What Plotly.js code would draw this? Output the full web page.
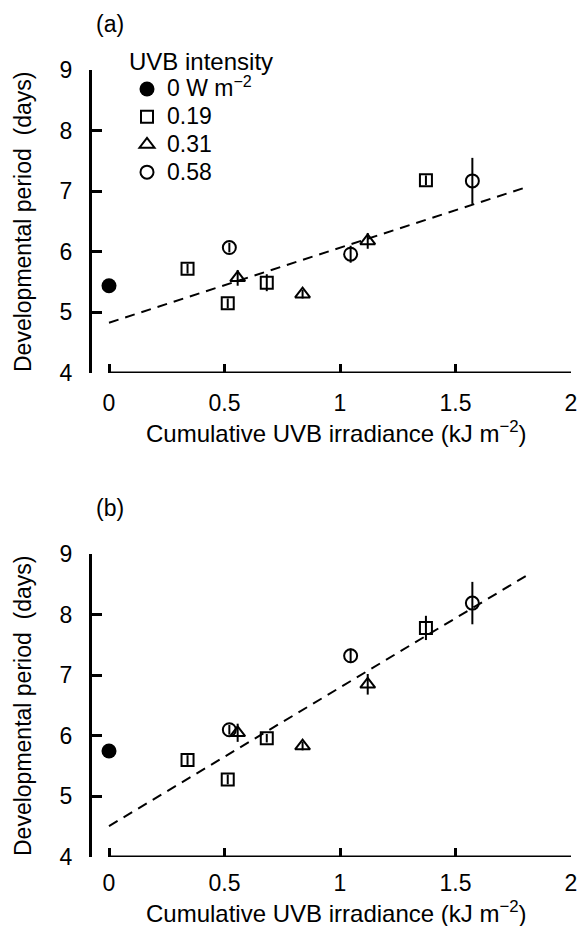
<!DOCTYPE html>
<html><head><meta charset="utf-8">
<script src="https://cdn.plot.ly/plotly-3.0.1.min.js"></script>
<style>html,body{margin:0;padding:0;background:#fff}</style>
</head><body><div id="chart" style="width:584px;height:926px"></div>
<script>
// ---- data ----
const legendNames = ['0 W m<sup>\u22122</sup>', '0.19', '0.31', '0.58'];
const xTicks = [0, 0.5, 1, 1.5, 2];
const yTicks = [4, 5, 6, 7, 8, 9];

const xCtrl = [0];
const xSq = [0.34, 0.514, 0.683, 1.372];
const xTri = [0.557, 0.838, 1.12];
const xCir = [0.521, 1.046, 1.573];

// panel (a)
const yCtrlA = [5.44];  const eCtrlA = [0.05];
const ySqA = [5.72, 5.15, 5.49, 7.18];  const eSqA = [0.08, 0.08, 0.14, 0.08];
const yTriA = [5.57, 5.30, 6.18];       const eTriA = [0.13, 0.07, 0.13];
const yCirA = [6.07, 5.96, 7.17];       const eCirA = [0.08, 0.14, 0.38];

// panel (b)
const yCtrlB = [5.75];  const eCtrlB = [0.05];
const ySqB = [5.60, 5.28, 5.96, 7.78];  const eSqB = [0.08, 0.08, 0.07, 0.20];
const yTriB = [6.05, 5.83, 6.85];       const eTriB = [0.15, 0.07, 0.17];
const yCirB = [6.10, 7.32, 8.19];       const eCirB = [0.08, 0.12, 0.35];

// regression lines
const trendX = [0, 1.81];
const trendYA = [4.83, 7.07];
const trendYB = [4.51, 8.65];

// ---- layout helpers ----
const W = 584, H = 926;
const px = v => v / W;
const py = v => 1 - v / H;
const FONT = 'Arial, "Liberation Sans", sans-serif';
const big = s => '<span style="font-size:23px">' + s + '</span>';

function series(xa, ya, x, y, e, symbol, size, name, show) {
  const filled = symbol === 'circle';
  return {
    type: 'scatter', mode: 'markers', x: x, y: y, xaxis: xa, yaxis: ya,
    name: big(name), showlegend: show, legendgroup: name,
    error_y: {type: 'data', array: e, visible: true, color: '#000', thickness: 2, width: 0},
    marker: {symbol: symbol, size: size, color: '#000',
             line: {color: '#000', width: filled ? 0 : 2}},
    cliponaxis: false
  };
}
function trend(xa, ya, y) {
  return {type: 'scatter', mode: 'lines', x: trendX, y: y, xaxis: xa, yaxis: ya,
          showlegend: false, line: {color: '#000', width: 2, dash: '10px,7px'}, hoverinfo: 'skip'};
}

const data = [
  trend('x', 'y', trendYA),
  series('x', 'y', xCtrl, yCtrlA, eCtrlA, 'circle', 15, legendNames[0], true),
  series('x', 'y', xSq, ySqA, eSqA, 'square-open', 12, legendNames[1], true),
  series('x', 'y', xTri, yTriA, eTriA, 'triangle-up-open', 13, legendNames[2], true),
  series('x', 'y', xCir, yCirA, eCirA, 'circle-open', 13, legendNames[3], true),
  trend('x2', 'y2', trendYB),
  series('x2', 'y2', xCtrl, yCtrlB, eCtrlB, 'circle', 15, legendNames[0], false),
  series('x2', 'y2', xSq, ySqB, eSqB, 'square-open', 12, legendNames[1], false),
  series('x2', 'y2', xTri, yTriB, eTriB, 'triangle-up-open', 13, legendNames[2], false),
  series('x2', 'y2', xCir, yCirB, eCirB, 'circle-open', 13, legendNames[3], false)
];

const xRange = [-0.0736, 2];
function xAxis(anchor, standoff) {
  return {domain: [px(92), px(571)], range: xRange, anchor: anchor,
          tickvals: xTicks, ticktext: xTicks.map(String), ticks: 'inside', ticklen: 9, tickwidth: 3,
          tickcolor: '#000', showline: false, zeroline: false, showgrid: false,
          tickfont: {size: 23, color: '#000', family: FONT}, ticklabelstandoff: standoff, fixedrange: true};
}
function yAxis(anchor, top, bottom) {
  return {domain: [py(bottom), py(top)], range: [4, 9], anchor: anchor,
          tickvals: yTicks, ticktext: yTicks.map(String), ticks: 'inside', ticklen: 10, tickwidth: 3,
          tickcolor: '#000', showline: true, linewidth: 3, linecolor: '#000', zeroline: false, showgrid: false,
          tickfont: {size: 23, color: '#000', family: FONT}, ticklabelstandoff: 12, fixedrange: true};
}

const xTitle = 'Cumulative UVB irradiance (kJ m<sup>\u22122</sup>)';
const yTitle = 'Developmental period\u00a0 (days)';
const ann = (text, x, y, extra) => Object.assign({text: text, xref: 'paper', yref: 'paper', x: px(x), y: py(y),
  xanchor: 'center', yanchor: 'middle', showarrow: false, font: {size: 23, color: '#000', family: FONT}}, extra || {});

const layout = {
  width: W, height: H, margin: {l: 0, r: 0, t: 0, b: 0},
  paper_bgcolor: '#fff', plot_bgcolor: '#fff',
  font: {family: FONT, color: '#000'},
  xaxis: xAxis('y', 14), yaxis: yAxis('x', 70, 373),
  xaxis2: xAxis('y2', 10), yaxis2: yAxis('x2', 554, 857),
  shapes: [
    {type: 'line', xref: 'x', yref: 'y', x0: xTicks[0], x1: xTicks[xTicks.length - 1], y0: 4, y1: 4, line: {color: '#000', width: 3}},
    {type: 'line', xref: 'x2', yref: 'y2', x0: xTicks[0], x1: xTicks[xTicks.length - 1], y0: 4, y1: 4, line: {color: '#000', width: 3}}
  ],
  annotations: [
    ann('(a)', 110, 24),
    ann('(b)', 110, 508),
    ann(xTitle, 336, 432, {font: {size: 24, color: '#000', family: FONT}}),
    ann(xTitle, 336, 912, {font: {size: 24, color: '#000', family: FONT}}),
    ann(yTitle, 23, 222, {textangle: -90}),
    ann(yTitle, 23, 706, {textangle: -90})
  ],
  legend: {x: px(127), xanchor: 'left', y: py(39), yanchor: 'top',
           font: {size: 19, color: '#000', family: FONT}, bgcolor: 'rgba(0,0,0,0)',
           title: {text: 'UVB intensity', font: {size: 24, color: '#000', family: FONT}},
           tracegroupgap: 0, itemwidth: 30, borderwidth: 0},
  showlegend: true
};

Plotly.newPlot('chart', data, layout, {displayModeBar: false, staticPlot: true});
</script></body></html>
